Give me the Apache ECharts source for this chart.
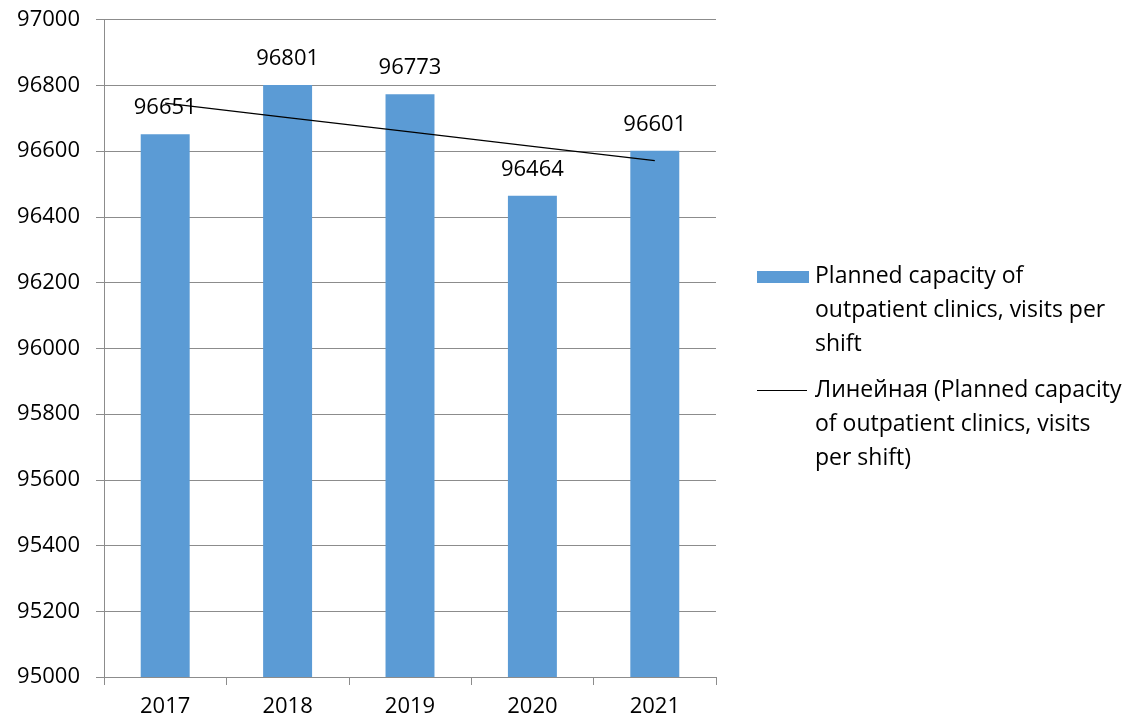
<!DOCTYPE html>
<html>
<head>
<meta charset="utf-8">
<script src="https://cdn.jsdelivr.net/npm/echarts@6/dist/echarts.min.js"></script>
<style>
  html, body { margin: 0; padding: 0; background: #ffffff; }
  #chart { width: 1133px; height: 724px; }
</style>
</head>
<body>
<div id="chart"></div>
<script>
// Years on the category axis
const years = ['2017', '2018', '2019', '2020', '2021'];
// Planned capacity of outpatient clinics, visits per shift
const capacity = [96651, 96801, 96773, 96464, 96601];
// Value axis range and step
const yMin = 95000;
const yMax = 97000;
const yStep = 200;

const barName = 'Planned capacity of outpatient clinics, visits per shift';
const trendName = 'Линейная (Planned capacity of outpatient clinics, visits per shift)';

// Least-squares linear trend over the bar values
function linearTrend(values) {
  const n = values.length;
  let sx = 0, sy = 0, sxx = 0, sxy = 0;
  values.forEach((v, i) => {
    const x = i + 1;
    sx += x; sy += v; sxx += x * x; sxy += x * v;
  });
  const slope = (n * sxy - sx * sy) / (n * sxx - sx * sx);
  const intercept = (sy - slope * sx) / n;
  return values.map((_, i) => intercept + slope * (i + 1));
}
const trend = linearTrend(capacity);

const FONT = '"Open Sans", Lato, sans-serif';
const FS = 22;
const LEGEND_FS = 23;
const BAR_COLOR = '#5b9bd5';
const AXIS_GRAY = '#8c8c8c';

const chart = echarts.init(document.getElementById('chart'), null, { renderer: 'canvas' });

const legendX = 757;
const textX = 815;
const lineH = 34;

chart.setOption({
  animation: false,
  backgroundColor: '#ffffff',
  textStyle: { fontFamily: FONT },
  grid: { left: 104, right: 417, top: 19.5, bottom: 47, containLabel: false },
  xAxis: {
    type: 'category',
    data: years,
    axisLine: { lineStyle: { color: AXIS_GRAY, width: 1 } },
    axisTick: { show: true, length: 8, alignWithLabel: false, lineStyle: { color: AXIS_GRAY } },
    axisLabel: { color: '#000', fontSize: FS, fontFamily: FONT, margin: 19 },
    splitLine: { show: false }
  },
  yAxis: {
    type: 'value',
    min: yMin,
    max: yMax,
    interval: yStep,
    axisLine: { show: true, lineStyle: { color: AXIS_GRAY, width: 1 } },
    axisTick: { show: true, length: 8, lineStyle: { color: AXIS_GRAY } },
    axisLabel: { color: '#000', fontSize: FS, fontFamily: FONT, margin: 24, formatter: v => String(v) },
    splitLine: { show: true, lineStyle: { color: AXIS_GRAY, width: 1 } }
  },
  series: [
    {
      name: barName,
      type: 'bar',
      data: capacity,
      barWidth: '40%',
      itemStyle: { color: BAR_COLOR },
      label: {
        show: true,
        position: 'top',
        distance: 15,
        color: '#000',
        fontSize: FS,
        fontFamily: FONT
      },
      z: 2
    },
    {
      name: trendName,
      type: 'line',
      data: trend,
      symbol: 'none',
      lineStyle: { color: '#000', width: 1.2 },
      z: 3
    }
  ],
  graphic: [
    { type: 'rect', shape: { x: legendX, y: 271, width: 52, height: 12 }, style: { fill: BAR_COLOR } },
    { type: 'text', x: textX, y: 276 - lineH / 2,
      style: { text: 'Planned capacity of\noutpatient clinics, visits per\nshift', font: LEGEND_FS + 'px ' + FONT, fill: '#000', lineHeight: lineH, textVerticalAlign: 'top' } },
    { type: 'line', shape: { x1: legendX, y1: 390.5, x2: legendX + 50, y2: 390.5 }, style: { stroke: '#000', lineWidth: 1 } },
    { type: 'text', x: textX, y: 390 - lineH / 2,
      style: { text: 'Линейная (Planned capacity\nof outpatient clinics, visits\nper shift)', font: LEGEND_FS + 'px ' + FONT, fill: '#000', lineHeight: lineH, textVerticalAlign: 'top' } }
  ]
});
</script>
</body>
</html>
